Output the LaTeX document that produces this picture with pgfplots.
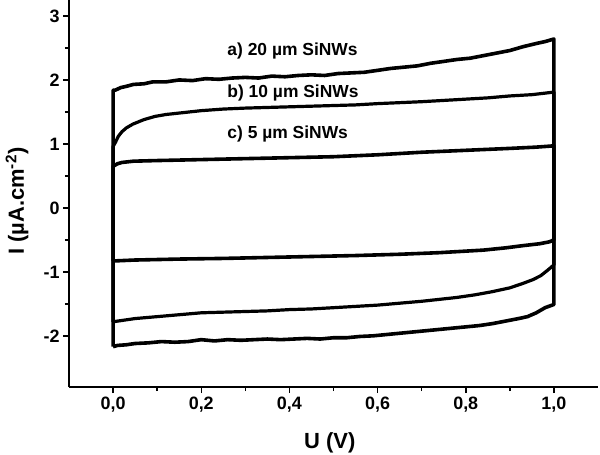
\documentclass[border=0pt]{standalone}
\usepackage{fontspec}
\setmainfont{Liberation Sans}
\usepackage{pgfplots}
\pgfplotsset{compat=1.18}
\begin{document}
\begin{tikzpicture}
\begin{axis}[
  at={(0,0)}, anchor=south west,
  scale only axis, width=529bp, height=387bp,
  xmin=-0.1, xmax=1.1, ymin=-2.8, ymax=3.25,
  axis x line=bottom, axis y line=left,
  axis line style={-, line width=1.8bp},
  tick align=outside,
  major tick length=6bp, minor tick length=4bp,
  every tick/.style={black, line width=1.5bp},
  xtick={0,0.2,0.4,0.6,0.8,1.0},
  xticklabels={{0,0},{0,2},{0,4},{0,6},{0,8},{1,0}},
  ytick={-2,-1,0,1,2,3},
  yticklabels={-2,-1,0,1,2,3},
  minor x tick num=1, minor y tick num=1,
  tick label style={font=\fontsize{18}{21}\selectfont\bfseries},
  xlabel={U (V)}, ylabel={I (µA.cm\textsuperscript{-2})},
  label style={font=\fontsize{22}{26}\selectfont\bfseries},
  xlabel style={at={(axis description cs:0.493,-0.145)}, anchor=center},
  ylabel style={at={(axis description cs:-0.098,0.48)}, anchor=center},
  clip=false,
]
% a) 20 um
\addplot[black, line width=3.6bp, line join=round] coordinates {
(0,-2.17)(0,1.84)
(0.005,1.84)(0.017,1.88)(0.03,1.90)(0.046,1.93)(0.07,1.94)(0.09,1.97)(0.12,1.97)(0.15,2.00)(0.18,1.99)(0.21,2.02)(0.24,2.01)(0.27,2.03)(0.30,2.04)(0.33,2.03)(0.36,2.06)(0.39,2.05)(0.42,2.07)(0.45,2.08)(0.48,2.07)(0.51,2.10)(0.54,2.11)(0.57,2.12)(0.60,2.15)(0.63,2.18)(0.66,2.20)(0.69,2.22)(0.72,2.26)(0.75,2.29)(0.78,2.32)(0.81,2.34)(0.84,2.38)(0.87,2.42)(0.90,2.46)(0.93,2.52)(0.96,2.57)(0.98,2.60)(1.0,2.64)
(1.0,-1.51)
(0.98,-1.56)(0.96,-1.64)(0.94,-1.70)(0.92,-1.73)(0.89,-1.77)(0.86,-1.81)(0.83,-1.84)(0.80,-1.86)(0.77,-1.88)(0.74,-1.90)(0.71,-1.92)(0.68,-1.94)(0.65,-1.96)(0.62,-1.98)(0.59,-2.00)(0.56,-2.01)(0.53,-2.03)(0.50,-2.03)(0.47,-2.05)(0.44,-2.04)(0.41,-2.05)(0.38,-2.06)(0.35,-2.05)(0.32,-2.06)(0.29,-2.07)(0.26,-2.06)(0.23,-2.08)(0.20,-2.06)(0.17,-2.09)(0.14,-2.10)(0.11,-2.09)(0.08,-2.11)(0.05,-2.12)(0.03,-2.14)(0.01,-2.15)(0,-2.17)
};
% b) 10 um
\addplot[black, line width=3.2bp, line join=round] coordinates {
(0,-1.78)(0,0.96)(0.005,1.02)(0.012,1.12)(0.02,1.19)(0.03,1.25)(0.045,1.31)(0.07,1.38)(0.095,1.43)(0.12,1.46)(0.16,1.49)(0.2,1.52)(0.25,1.545)(0.3,1.56)(0.35,1.57)(0.4,1.58)(0.45,1.59)(0.5,1.60)(0.55,1.61)(0.6,1.63)(0.65,1.645)(0.7,1.66)(0.75,1.68)(0.8,1.70)(0.85,1.72)(0.9,1.75)(0.95,1.77)(1.0,1.81)
(1.0,-0.89)(0.99,-0.95)(0.983,-0.99)(0.97,-1.06)(0.953,-1.12)(0.93,-1.18)(0.9,-1.25)(0.86,-1.31)(0.82,-1.36)(0.78,-1.40)(0.74,-1.43)(0.7,-1.46)(0.65,-1.49)(0.6,-1.52)(0.55,-1.54)(0.5,-1.56)(0.45,-1.58)(0.4,-1.59)(0.35,-1.61)(0.3,-1.62)(0.25,-1.63)(0.2,-1.64)(0.15,-1.67)(0.1,-1.70)(0.05,-1.73)(0.02,-1.76)(0,-1.78)
};
% c) 5 um
\addplot[black, line width=3.6bp, line join=round] coordinates {
(0,-0.83)(0,0.65)(0.005,0.67)(0.01,0.69)(0.02,0.71)(0.046,0.73)(0.1,0.74)(0.2,0.755)(0.3,0.77)(0.4,0.785)(0.5,0.80)(0.6,0.83)(0.7,0.87)(0.8,0.90)(0.9,0.93)(0.96,0.95)(1.0,0.97)
(1.0,-0.50)(0.99,-0.53)(0.968,-0.56)(0.93,-0.59)(0.89,-0.625)(0.84,-0.66)(0.79,-0.68)(0.74,-0.70)(0.65,-0.725)(0.55,-0.745)(0.45,-0.76)(0.35,-0.775)(0.25,-0.79)(0.15,-0.80)(0.05,-0.815)(0,-0.83)
};
\node[anchor=west, inner sep=0pt, font=\fontsize{17.5}{20}\selectfont\bfseries] at (axis cs:0.259,2.46) {a) 20 µm SiNWs};
\node[anchor=west, inner sep=0pt, font=\fontsize{17.5}{20}\selectfont\bfseries] at (axis cs:0.259,1.80) {b) 10 µm SiNWs};
\node[anchor=west, inner sep=0pt, font=\fontsize{17.5}{20}\selectfont\bfseries] at (axis cs:0.259,1.16) {c) 5 µm SiNWs};
\end{axis}
\pgfresetboundingbox
\path[use as bounding box] (-69bp,-68bp) rectangle (531bp,387bp);
\end{tikzpicture}
\end{document}
